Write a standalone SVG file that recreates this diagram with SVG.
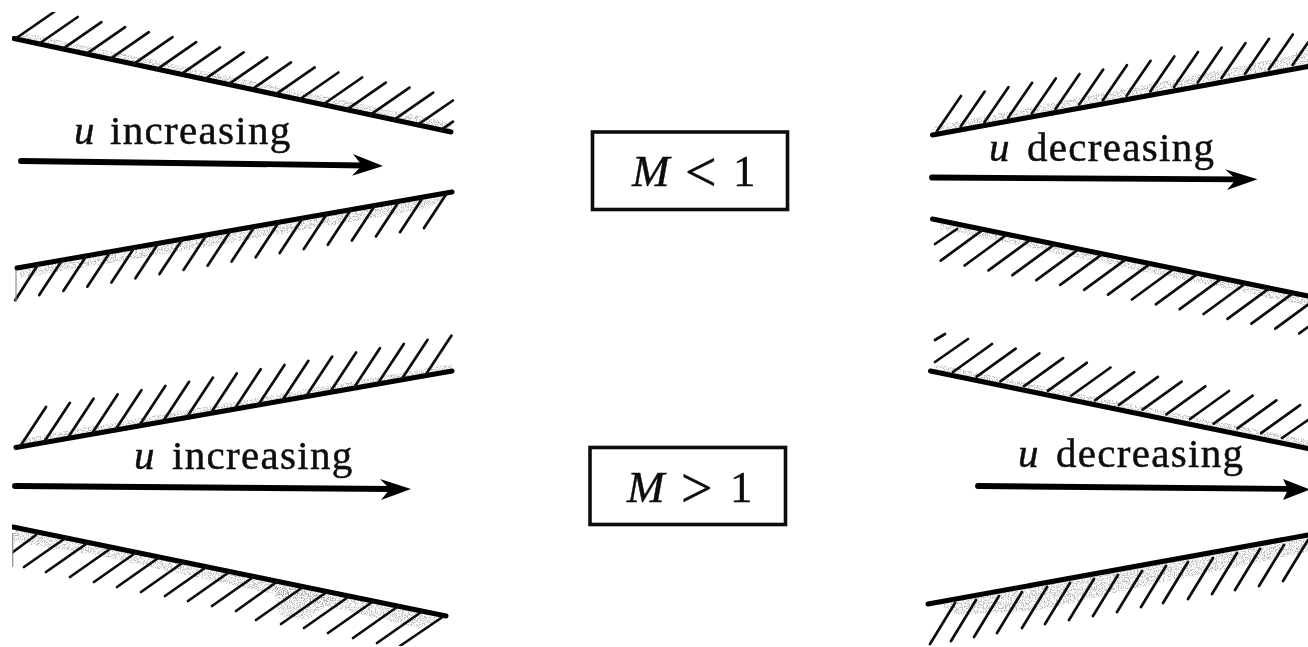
<svg xmlns="http://www.w3.org/2000/svg" width="1308" height="647" viewBox="0 0 1308 647">
<style>
.wall{fill:none;stroke:#050505;stroke-width:5;stroke-linecap:round}
.hatch{fill:none;stroke:#0c0c0c;stroke-width:2.7;stroke-linecap:round}
.faint{fill:none;stroke:#8a8a8a;stroke-width:1.2}
.shade{fill:#000;filter:url(#st);opacity:.6}
.shaft{fill:none;stroke:#050505;stroke-width:5.8;stroke-linecap:round}
.head{fill:#050505}
.box{fill:#fff;stroke:#101010;stroke-width:3.6}
text{font-family:"Liberation Serif","Times New Roman",serif;fill:#0a0a0a;stroke:#0a0a0a;stroke-width:.45}
.lab{font-size:41px;letter-spacing:1.3px}
.u{font-size:41px;font-style:italic}
.m{font-size:45px;font-style:italic}
.n{font-size:45px}
.op{font-size:56px}
</style>
<defs>
<filter id="st" x="0" y="0" width="100%" height="100%">
<feTurbulence type="fractalNoise" baseFrequency="0.85" numOctaves="2" seed="4"/>
<feColorMatrix values="0 0 0 0 .3 0 0 0 0 .3 0 0 0 0 .3 7 0 0 0 -3.3"/>
<feComposite in2="SourceAlpha" operator="in"/>
<feGaussianBlur stdDeviation=".4"/>
</filter>
<filter id="soft" x="0" y="0" width="100%" height="100%"><feGaussianBlur stdDeviation=".5"/></filter>
</defs>
<rect width="1308" height="647" fill="#fff"/>
<g filter="url(#soft)">
<g id="wall-top-left-upper">
<polygon class="shade" points="20,39 452,132 452,123 20,32"/>
<path class="wall" d="M14 38.500L451 132"/>
<path class="hatch" d="M15 39l39-27M38.700 44l39-27M62.400 49.100l39-27M86.100 54.100l39-27M109.800 59.200l39-27M133.500 64.200l39-27M157.200 69.200l39-27M180.900 74.300l39-27M204.600 79.300l39-27M228.300 84.400l39-27M252 89.400l39-27M275.700 94.400l39-27M299.400 99.500l39-27M323.100 104.500l39-27M346.800 109.600l39-27M370.500 114.600l39-27M394.200 119.600l39-27M417.900 124.700l35-24.200M441.600 129.700l11.400-8"/>
</g>
<g id="wall-top-left-lower">
<polygon class="shade" points="20,268 452,192 430,208 230,243 20,278"/>
<path class="wall" d="M17 268L452 192"/>
<path class="hatch" d="M447 193l-23 35M423 197.200l-23 35M398.900 201.400l-23 35M374.900 205.600l-23 35M350.800 209.800l-23 35M326.800 214l-23 35M302.700 218.100l-23 35M278.700 222.300l-23 35M254.600 226.500l-23 35M230.600 230.700l-23 35M206.500 234.900l-23 35M182.500 239.100l-23 35M158.400 243.300l-23 35M134.400 247.500l-23 35M110.300 251.700l-23 35M86.300 255.900l-23 35M62.200 260l-23 35M38.200 264.200l-23 36"/>
<path class="faint" d="M16 270V302"/>
</g>
<g id="wall-bottom-left-upper">
<polygon class="shade" points="20,447 452,371 452,364 20,439"/>
<path class="wall" d="M16 447.500L452 371"/>
<path class="hatch" d="M21 445l25-38M44.900 440.800l25-38M68.700 436.600l25-38M92.600 432.400l25-38M116.400 428.200l25-38M140.300 424l25-38M164.100 419.800l25-38M188 415.600l25-38M211.800 411.400l25-38M235.700 407.200l25-38M259.500 403l25-38M283.400 398.800l25-38M307.200 394.600l25-38M331.100 390.400l25-38M354.900 386.200l25-38M378.800 382l25-38M402.600 377.800l25-38M426.500 373.600l25-38"/>
</g>
<g id="wall-bottom-left-lower">
<polygon class="shade" points="14,528 446,616 420,628 300,600 100,556 14,542"/>
<polygon class="shade" points="272,584 335,598 308,620 280,616"/>
<path class="wall" d="M13 527L446 616"/>
<path class="hatch" d="M13 552l23-17M24 567l41.500-29M46 572l42-29.400M70 577l42-29.500M94 582l42-29.500M117 587l42-29.500M141 592l42-29.500M165 596l42-29.500M188 601l42-29.500M212 606l42-29.500M236 611l42-30M256 620l47-33M281 624l46.400-32.500M304 628l45.600-32M328 633l45.700-32M353 638l45.500-32M377 643l45.700-32M400 646l44-30"/>
<path class="faint" d="M12.700 533V567"/>
</g>
<g id="wall-top-right-upper">
<polygon class="shade" points="935,134 1308,66 1308,45 1290,56 1200,74 935,126"/>
<path class="wall" d="M932.500 135L1308 66.500"/>
<path class="hatch" d="M937 131l24-35M960.700 126.600l24-35M984.400 122.200l24-35M1008.100 117.800l24-35M1031.800 113.400l24-35M1055.500 109l24-35M1079.200 104.600l24-35M1102.900 100.200l24-35M1126.600 95.800l24-35M1150.300 91.400l24-35M1174 87l24-35M1197.700 82.600l24-35M1221.400 78.200l24-35M1245.100 73.800l24-35M1268.800 69.400l24-35M1292.500 65l15.500-22.600"/>
</g>
<g id="wall-top-right-lower">
<polygon class="shade" points="940,221 1308,297 1308,306 940,229"/>
<path class="wall" d="M932.500 219L1308 296"/>
<path class="hatch" d="M935 244l22-15M940.700 260.700l41-30M964.600 265.500l41-30M988.500 270.400l41-30M1012.400 275.200l41-30M1036.300 280.100l41-30M1060.200 284.900l41-30M1084.100 289.800l41-30M1108 294.600l41-30M1131.900 299.500l41-30M1155.800 304.300l41-30M1179.700 309.200l41-30M1203.600 314l41-30M1227.500 318.900l41-30M1251.400 323.700l41-30M1275.300 328.600l32.700-24M1299.200 333.400l8.800-6.400"/>
</g>
<g id="wall-bottom-right-upper">
<polygon class="shade" points="935,373 1308,449 1308,440 935,364"/>
<path class="wall" d="M930.500 371L1308 448.500"/>
<path class="hatch" d="M935 362l33-23M935 340l10-6M992 344l-39 28M1015.700 348.700l-39 28M1039.400 353.400l-39 28M1063.100 358.100l-39 28M1086.800 362.800l-39 28M1110.500 367.500l-39 28M1134.200 372.200l-39 28M1157.900 376.900l-39 28M1181.600 381.600l-39 28M1205.300 386.300l-39 28M1229 391l-39 28M1252.700 395.700l-39 28M1276.400 400.400l-39 28M1300.100 405.100l-39 28M1308 420l-26 18"/>
</g>
<g id="wall-bottom-right-lower">
<polygon class="shade" points="935,603 1308,536 1308,552 1150,585 1040,610 960,615"/>
<path class="wall" d="M928 604L1308 535"/>
<path class="hatch" d="M930 644l25-41M951 641l25-41M974 637l25-41M997 633l25-41M1022 628l25-41M1045 624l25-41M1069 620l25-41M1093 616l25-41M1117 612l25-41M1141 607l25-41M1163 603l25-41M1188 599l25-41M1212 594l25-41M1235 590l25-41M1259 586l25-41M1283 581l25-41"/>
</g>
<g id="connectors">
<path class="shaft" d="M21 161L365 165.500"/>
<polygon class="head" points="383,166 353,154 362,165.500 352,175.700"/>
<path class="shaft" d="M15 486L392 489"/>
<polygon class="head" points="411,489 380,479 390,489 381,500"/>
<path class="shaft" d="M932 177.500L1238 179.300"/>
<polygon class="head" points="1257.500,179.300 1225,169.300 1236,179.300 1227,190"/>
<path class="shaft" d="M978 486L1292 489"/>
<polygon class="head" points="1310,489.500 1283,479 1288,489.500 1283,500"/>
</g>
<g id="label-u-increasing-top">
<text class="u" x="74" y="143.500">u</text><text class="lab" x="110" y="143.500">increasing</text>
</g>
<g id="label-u-increasing-bottom">
<text class="u" x="134" y="469">u</text><text class="lab" x="172" y="469">increasing</text>
</g>
<g id="label-u-decreasing-top">
<text class="u" x="989" y="160.700">u</text><text class="lab" x="1027" y="160.700">decreasing</text>
</g>
<g id="label-u-decreasing-bottom">
<text class="u" x="1018" y="467">u</text><text class="lab" x="1056" y="467">decreasing</text>
</g>
<g id="node-m-less">
<rect class="box" x="592.500" y="132" width="195" height="77.500"/>
<text class="m" x="632" y="186">M</text><text class="op" x="685" y="191">&lt;</text><text class="n" x="733" y="186">1</text>
</g>
<g id="node-m-greater">
<rect class="box" x="590" y="447.500" width="195.500" height="77"/>
<text class="m" x="627" y="502">M</text><text class="op" x="681" y="507">&gt;</text><text class="n" x="730" y="502">1</text>
</g>
</g>
</svg>
